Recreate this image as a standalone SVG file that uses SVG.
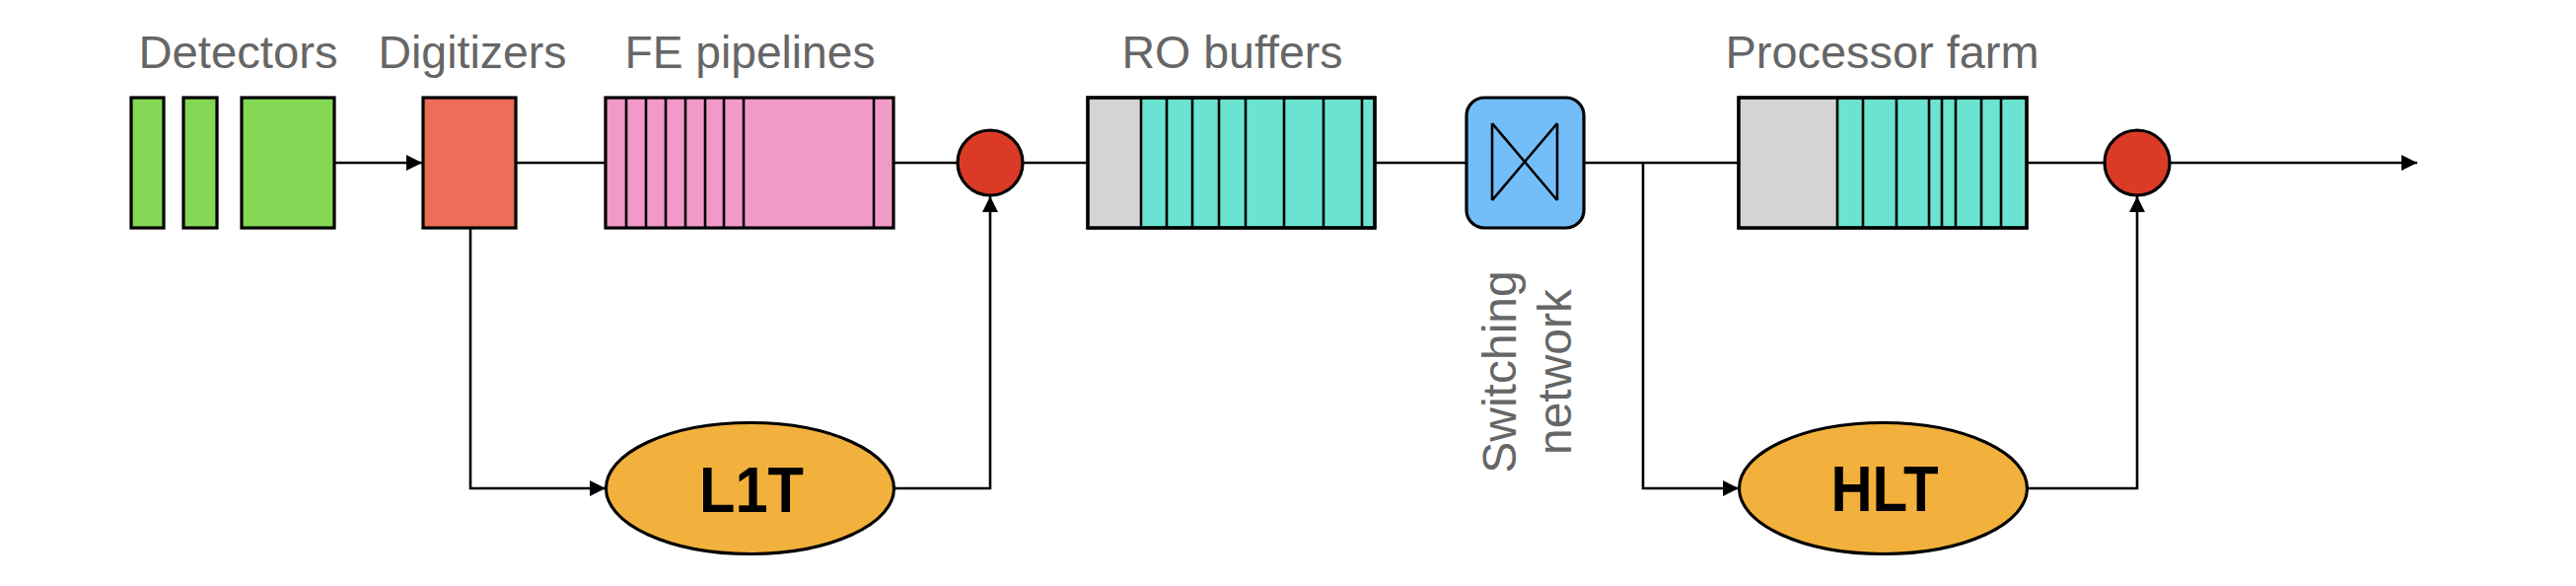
<svg xmlns="http://www.w3.org/2000/svg" width="2612" height="594" viewBox="0 0 2612 594">
  <style>
    .lbl { font-family: "Liberation Sans", Arial, sans-serif; font-size: 46px; fill: #666666; text-anchor: middle; }
    .big { font-family: "Liberation Sans", Arial, sans-serif; font-size: 64px; font-weight: bold; fill: #000000; text-anchor: middle; }
    .box { stroke: #000000; stroke-width: 3.2; }
    .div { stroke: #000000; stroke-width: 2.6; fill: none; }
    .conn { stroke: #000000; stroke-width: 2.6; fill: none; }
    .green { fill: #84d755; }
    .digi { fill: #ec6e58; }
    .pink { fill: #f29ac7; }
    .red { fill: #db3b26; }
    .gray { fill: #d4d4d4; }
    .teal { fill: #6ce3d0; }
    .blue { fill: #73bef9; }
    .orange { fill: #f2b13c; }
  </style>
  <defs>
    <marker id="arrow" markerUnits="userSpaceOnUse" markerWidth="18" markerHeight="18" viewBox="0 0 18 18" refX="17" refY="9" orient="auto">
      <path d="M1,1 L17,9 L1,17 Z" fill="#000000"/>
    </marker>
  </defs>

  <g id="connectors">
    <line class="conn" x1="339" y1="165" x2="428" y2="165" marker-end="url(#arrow)"/>
    <line class="conn" x1="523" y1="165" x2="613" y2="165"/>
    <line class="conn" x1="906" y1="165" x2="971" y2="165"/>
    <line class="conn" x1="1037" y1="165" x2="1103" y2="165"/>
    <line class="conn" x1="1394" y1="165" x2="1486" y2="165"/>
    <line class="conn" x1="1607" y1="165" x2="1763" y2="165"/>
    <line class="conn" x1="2055" y1="165" x2="2134" y2="165"/>
    <line class="conn" x1="2200" y1="165" x2="2451" y2="165" marker-end="url(#arrow)"/>
    <polyline class="conn" points="477,232 477,495 614,495" marker-end="url(#arrow)"/>
    <polyline class="conn" points="907,495 1004,495 1004,199" marker-end="url(#arrow)"/>
    <polyline class="conn" points="1666,165 1666,495 1763,495" marker-end="url(#arrow)"/>
    <polyline class="conn" points="2056,495 2167,495 2167,199" marker-end="url(#arrow)"/>
  </g>

  <g id="detectors">
    <text class="lbl" x="241.5" y="69" textLength="202" lengthAdjust="spacingAndGlyphs">Detectors</text>
    <rect class="box green" x="133" y="99" width="33" height="132"/>
    <rect class="box green" x="186" y="99" width="34" height="132"/>
    <rect class="box green" x="245" y="99" width="94" height="132"/>
  </g>

  <g id="digitizers">
    <text class="lbl" x="479" y="69" textLength="191" lengthAdjust="spacingAndGlyphs">Digitizers</text>
    <rect class="box digi" x="429" y="99" width="94" height="132"/>
  </g>

  <g id="fe-pipelines">
    <text class="lbl" x="760.5" y="69" textLength="254" lengthAdjust="spacingAndGlyphs">FE pipelines</text>
    <rect class="box pink" x="614" y="99" width="292" height="132"/>
    <path class="div" d="M635,99V231 M655,99V231 M675,99V231 M695,99V231 M715,99V231 M734,99V231 M754,99V231 M886,99V231"/>
  </g>

  <g id="l1-gate">
    <circle class="box red" cx="1004" cy="165" r="33"/>
  </g>

  <g id="ro-buffers">
    <text class="lbl" x="1249.5" y="69" textLength="224" lengthAdjust="spacingAndGlyphs">RO buffers</text>
    <rect class="box teal" x="1103" y="99" width="291" height="132"/>
    <rect class="gray" x="1104.6" y="100.6" width="52" height="128.8"/>
    <path class="div" d="M1157,99V231 M1183,99V231 M1209,99V231 M1236,99V231 M1263,99V231 M1302,99V231 M1342,99V231 M1381,99V231"/>
    <rect class="box" x="1103" y="99" width="291" height="132" fill="none"/>
  </g>

  <g id="switching-network">
    <rect class="box blue" x="1487" y="99" width="119" height="132" rx="18" ry="18"/>
    <path class="div" d="M1513,125V203 M1579,125V203 M1513,125L1579,203 M1579,125L1513,203"/>
    <text class="lbl" style="font-size:48px" transform="translate(1537,377) rotate(-90)" x="0" y="0">Switching</text>
    <text class="lbl" style="font-size:48px" transform="translate(1593,377) rotate(-90)" x="0" y="0">network</text>
  </g>

  <g id="processor-farm">
    <text class="lbl" x="1908.5" y="69" textLength="318" lengthAdjust="spacingAndGlyphs">Processor farm</text>
    <rect class="box teal" x="1763" y="99" width="292" height="132"/>
    <rect class="gray" x="1764.6" y="100.6" width="99" height="128.8"/>
    <path class="div" d="M1863,99V231 M1889,99V231 M1923,99V231 M1956,99V231 M1969,99V231 M1983,99V231 M2009,99V231 M2029,99V231"/>
    <rect class="box" x="1763" y="99" width="292" height="132" fill="none"/>
  </g>

  <g id="hlt-gate">
    <circle class="box red" cx="2167" cy="165" r="33"/>
  </g>

  <g id="l1t">
    <ellipse class="box orange" cx="760.5" cy="495" rx="146" ry="66.5"/>
    <text class="big" x="762" y="519" textLength="106" lengthAdjust="spacingAndGlyphs">L1T</text>
  </g>

  <g id="hlt">
    <ellipse class="box orange" cx="1909.5" cy="495" rx="146" ry="66.5"/>
    <text class="big" x="1911" y="518" textLength="109" lengthAdjust="spacingAndGlyphs">HLT</text>
  </g>
</svg>
